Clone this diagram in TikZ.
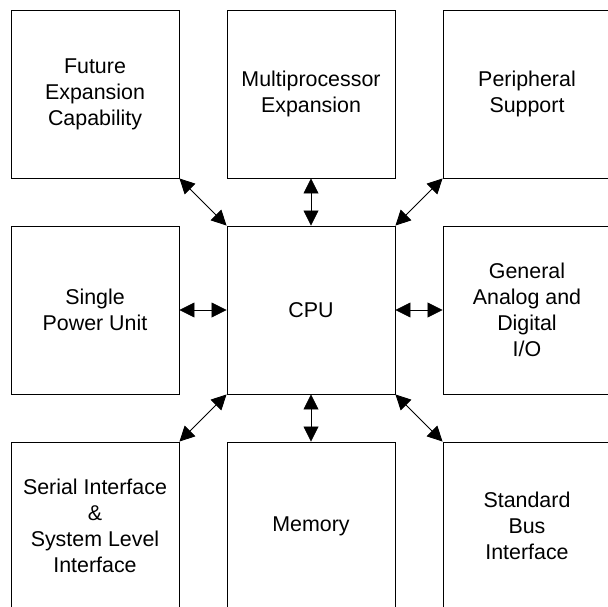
\documentclass[tikz,border=0pt]{standalone}
\usepackage{fontspec}
\setmainfont{Liberation Sans}
\usetikzlibrary{arrows.meta}
\begin{document}
\begin{tikzpicture}[x=1pt,y=-1pt,
  blk/.style={draw=black,line width=0.9pt,minimum width=168pt,minimum height=168pt,inner sep=0pt,align=center,font=\fontsize{21.4}{26}\selectfont},
  biarrow/.style={line width=0.8pt,{Triangle[length=15pt,width=15pt]}-{Triangle[length=15pt,width=15pt]}}]
\useasboundingbox (0,0) rectangle (608,607);
\clip (0,0) rectangle (608,607);
\fill[white] (0,0) rectangle (608,607);
\node[blk] (fut) at (95,94) {Future\\Expansion\\Capability};
\node[blk] (mul) at (311,94) {Multiprocessor\\Expansion};
\node[blk] (per) at (527,94) {Peripheral\\Support};
\node[blk] (spu) at (95,310) {Single\\Power Unit};
\node[blk] (cpu) at (311,310) {CPU};
\node[blk] (gen) at (527,310) {General\\Analog and\\Digital\\I/O};
\node[blk] (ser) at (95,526) {Serial Interface\\\&\\System Level\\Interface};
\node[blk] (mem) at (311,526) {Memory};
\node[blk] (bus) at (527,526) {Standard\\Bus\\Interface};
\draw[biarrow] (fut.south east) -- (cpu.north west);
\draw[biarrow] (mul.south) -- (cpu.north);
\draw[biarrow] (per.south west) -- (cpu.north east);
\draw[biarrow] (spu.east) -- (cpu.west);
\draw[biarrow] (gen.west) -- (cpu.east);
\draw[biarrow] (ser.north east) -- (cpu.south west);
\draw[biarrow] (mem.north) -- (cpu.south);
\draw[biarrow] (bus.north west) -- (cpu.south east);
\end{tikzpicture}
\end{document}
